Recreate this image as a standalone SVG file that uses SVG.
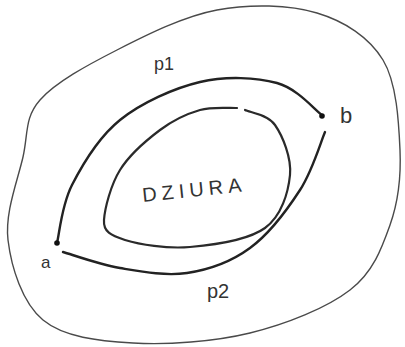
<svg xmlns="http://www.w3.org/2000/svg" width="405" height="347" viewBox="0 0 405 347">
  <style>
    .outer { fill: none; stroke: #4a4a4a; stroke-width: 1.4; stroke-linecap: round; stroke-linejoin: round; }
    .path { fill: none; stroke: #222; stroke-width: 2.4; stroke-linecap: round; stroke-linejoin: round; }
    .hole { fill: none; stroke: #2a2a2a; stroke-width: 2.2; stroke-linecap: round; stroke-linejoin: round; }
    .pt { fill: #111; }
    .lbl { font-family: "Liberation Sans", "DejaVu Sans", sans-serif; fill: #333; }
  </style>
  <rect width="405" height="347" fill="#ffffff"/>

  <g id="region">
    <path class="outer" d="M40,100 C55.7,82.2 87.5,65 117,50 C146.5,35 183.7,16.2 217,10 C250.3,3.8 289.3,4.7 317,13 C344.7,21.3 369.2,37.2 383,60 C396.8,82.8 398.8,122.5 400,150 C401.2,177.5 398.3,201.7 390,225 C381.7,248.3 373.3,272 350,290 C326.7,308 286.2,324.2 250,333 C213.8,341.8 167.5,345 133,343 C98.5,341 63.8,337.2 43,320 C22.2,302.8 11.3,267.2 8,240 C4.7,212.8 17.7,180.3 23,157 C28.3,133.7 24.3,117.8 40,100 Z"/>
  </g>

  <g id="hole">
    <path class="hole" d="M245,110 C250,112.5 267.5,114.2 275,125 C282.5,135.8 291.7,157.8 290,175 C288.3,192.2 281.7,216 265,228 C248.3,240 213.3,245 190,247 C166.7,249 139.3,244.5 125,240 C110.7,235.5 103.2,231.7 104,220 C104.8,208.3 110.7,185 120,170 C129.3,155 146.7,140 160,130 C173.3,120 187.2,113.7 200,110 C212.8,106.3 230.8,108.3 237,108"/>
    <text class="lbl" x="143" y="202" font-size="20" letter-spacing="5" transform="rotate(-6 143 202)">DZIURA</text>
  </g>

  <g id="connectors">
    <path id="p1" class="path" d="M57,243 C59.5,233.3 61.5,205.5 72,185 C82.5,164.5 98.7,137.2 120,120 C141.3,102.8 173.8,88.2 200,82 C226.2,75.8 256.7,77.5 277,83 C297.3,88.5 314.5,109.7 322,115"/>
    <path id="p2" class="path" d="M325,132 C320.8,141.7 312.5,170.7 300,190 C287.5,209.3 268.8,234.2 250,248 C231.2,261.8 208.7,269.7 187,273 C165.3,276.3 140.7,271.5 120,268 C99.3,264.5 72.5,254.7 63,252"/>
  </g>

  <g id="a">
    <circle class="pt" cx="57" cy="243" r="2.8"/>
    <text class="lbl" x="41" y="268" font-size="17">a</text>
  </g>
  <g id="b">
    <circle class="pt" cx="322" cy="116" r="2.8"/>
    <text class="lbl" x="340" y="123" font-size="22">b</text>
  </g>

  <g id="labels">
    <text class="lbl" x="154" y="70" font-size="18">p1</text>
    <text class="lbl" x="207" y="298" font-size="20">p2</text>
  </g>
</svg>
